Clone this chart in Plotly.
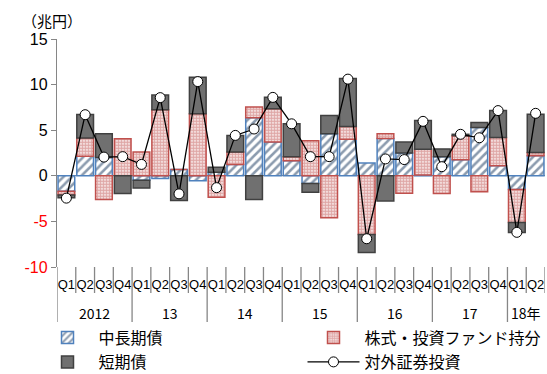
import plotly.graph_objects as go

# ---- data ----
years = ["2012", "13", "14", "15", "16", "17", "18年"]
quarters_per_year = [4, 4, 4, 4, 4, 4, 2]
quarter_names = ["Q1", "Q2", "Q3", "Q4"]

mid_long_bonds = [-1.7, 2.15, 2.0, 0.0,
                  -0.5, -0.3, 0.7, -0.55,
                  0.4, 1.25, 6.37, 3.7,
                  1.65, -0.85, 4.6, 4.0,
                  1.4, 4.1, 2.5, 0.1,
                  2.1, 1.75, 5.3, 1.1,
                  -1.5, 2.2]
equity_funds = [-0.4, 2.0, -2.6, 4.07,
                2.6, 7.25, 0.0, 6.8,
                -2.35, 1.35, 1.18, 3.66,
                0.45, 3.85, -4.6, 1.4,
                -6.45, 0.5, -1.9, 2.8,
                -1.95, 2.65, -1.75, 3.1,
                -3.63, 0.36]
short_bonds = [-0.3, 2.56, 2.6, -1.95,
               -0.85, 1.6, -2.7, 4.0,
               0.55, 1.83, -2.6, 1.24,
               3.6, -0.95, 2.0, 5.27,
               -1.95, -2.75, 1.2, 3.15,
               0.85, 0.15, 0.55, 2.95,
               -1.1, 4.2]
total_portfolio = [-2.45, 6.7, 2.05, 2.1,
                   1.25, 8.57, -1.98, 10.33,
                   -1.3, 4.43, 5.13, 8.6,
                   5.7, 2.1, 2.1, 10.6,
                   -6.9, 1.85, 1.78, 5.97,
                   1.0, 4.55, 4.17, 7.15,
                   -6.2, 6.85]

y_tick_vals = [-10, -5, 0, 5, 10, 15]
y_tick_text = ['<span style="color:#ff0000">-10</span>',
               '<span style="color:#ff0000">-5</span>',
               "0", "5", "10", "15"]

series_names = ["中長期債", "株式・投資ファンド持分", "短期債", "対外証券投資"]
unit_label = "（兆円）"

# ---- build categories ----
x_keys, x_text = [], []
for y, n in zip(years, quarters_per_year):
    for q in quarter_names[:n]:
        x_keys.append(f"{y}-{q}")
        x_text.append(q)

AXIS_GRAY = "#868686"
TICKFONT = "Liberation Sans, Arial, sans-serif"
CJK = "Noto Sans CJK JP, sans-serif"

fig = go.Figure()
fig.add_trace(go.Bar(
    x=x_keys, y=mid_long_bonds, name=series_names[0], legend="legend",
    marker=dict(color="white",
                line=dict(color="#4f81bd", width=1.5),
                pattern=dict(shape="/", fgcolor="#17375e", bgcolor="white",
                             size=6, solidity=0.42)),
))
fig.add_trace(go.Bar(
    x=x_keys, y=equity_funds, name=series_names[1], legend="legend",
    marker=dict(color="white",
                line=dict(color="#c0504d", width=1.5),
                pattern=dict(shape=".", fgcolor="#c0504d", bgcolor="white",
                             size=3, solidity=0.75)),
))
fig.add_trace(go.Bar(
    x=x_keys, y=short_bonds, name=series_names[2], legend="legend2",
    marker=dict(color="#707070", line=dict(color="#404040", width=1.5)),
))
fig.add_trace(go.Scatter(
    x=x_keys, y=total_portfolio, name=series_names[3], mode="lines+markers",
    legend="legend2",
    line=dict(color="black", width=1.3),
    marker=dict(symbol="circle", size=10, color="white",
                line=dict(color="black", width=1)),
))

# plot geometry
ML, MR, MT, MB = 57, 2, 39, 107
W, H = 547, 374
plot_h = H - MT - MB

shapes = []
n = len(x_keys)
year_starts = []
idx = 0
for c in quarters_per_year:
    year_starts.append(idx)
    idx += c
for i in range(n + 1):
    is_year = i in year_starts
    depth = 55 if is_year else 26
    shapes.append(dict(type="line", xref="x", yref="paper",
                       x0=i - 0.5, x1=i - 0.5, y0=0, y1=-depth / plot_h,
                       line=dict(color=AXIS_GRAY, width=1.3)))

annotations = []
for y, s, c in zip(years, year_starts, quarters_per_year):
    annotations.append(dict(x=s + (c - 1) / 2, y=-46 / plot_h, xref="x", yref="paper",
                            text=y, showarrow=False, xanchor="center", yanchor="middle",
                            font=dict(family=CJK, size=14, color="black")))
annotations.append(dict(x=(52 - ML) / (W - ML - MR), y=(H - MB - 21) / plot_h,
                        xref="paper", yref="paper", text=unit_label, showarrow=False,
                        xanchor="center", yanchor="middle",
                        font=dict(family=CJK, size=15, color="black")))

legend_common = dict(orientation="h", xanchor="left", yanchor="top",
                     traceorder="normal", entrywidthmode="pixels", entrywidth=199,
                     itemwidth=52, font=dict(family=CJK, size=16, color="black"),
                     tracegroupgap=0, bgcolor="rgba(0,0,0,0)")

fig.update_layout(
    width=W, height=H,
    margin=dict(l=ML, r=MR, t=MT, b=MB, autoexpand=False),
    paper_bgcolor="white", plot_bgcolor="white",
    barmode="relative", bargap=0.11,
    showlegend=True,
    legend=dict(x=-0.042, y=-0.235, **legend_common),
    legend2=dict(x=-0.042, y=-0.342, **legend_common),
    xaxis=dict(type="category", tickmode="array", tickvals=x_keys, ticktext=x_text,
               range=[-0.5, n - 0.5], showline=False, showgrid=False, ticks="",
               zeroline=False, ticklabelstandoff=8, tickangle=0, automargin=False,
               tickfont=dict(family=TICKFONT, size=13, color="black")),
    yaxis=dict(range=[-10, 15], tickmode="array", tickvals=y_tick_vals, ticktext=y_tick_text,
               showline=True, linecolor=AXIS_GRAY, linewidth=1.3, automargin=False,
               ticks="outside", ticklen=5, tickcolor=AXIS_GRAY, tickwidth=1.3,
               showgrid=False, zeroline=True, zerolinecolor=AXIS_GRAY, zerolinewidth=1.3,
               tickfont=dict(family=TICKFONT, size=16, color="black")),
    shapes=shapes, annotations=annotations,
)

fig.write_html("out.html")
